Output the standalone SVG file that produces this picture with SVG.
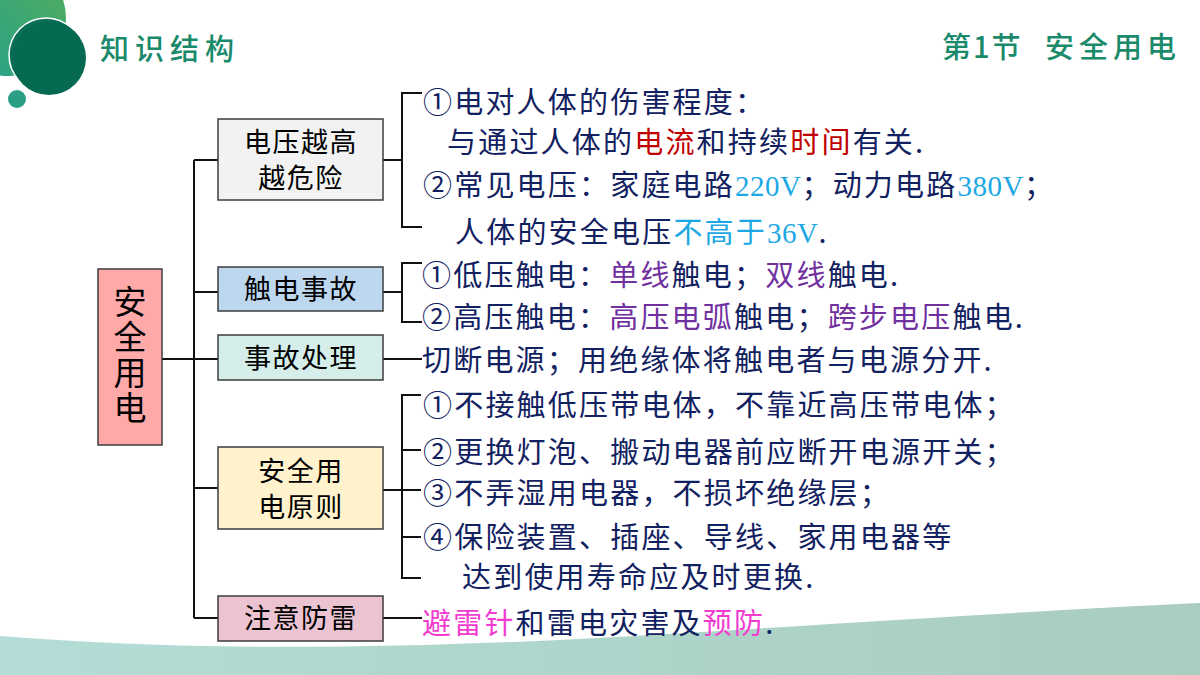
<svg xmlns="http://www.w3.org/2000/svg" width="1200" height="675" viewBox="0 0 1200 675">
<defs>
<linearGradient id="gBig" x1="0" y1="1" x2="1" y2="0">
<stop offset="0" stop-color="#22a08e"/>
<stop offset="1" stop-color="#55ad5c"/>
</linearGradient>
<linearGradient id="gBand" x1="0" y1="0" x2="1" y2="0">
<stop offset="0" stop-color="#b4ddd7"/>
<stop offset="1" stop-color="#a9cdbf"/>
</linearGradient>
<style>
.box{stroke:#3c3c3c;stroke-width:1.5}
.bt{font-family:"Noto Sans CJK SC","Noto Sans",sans-serif;font-size:27px;fill:#000;text-anchor:middle}
.rootT{font-family:"Noto Sans CJK SC","Noto Sans",sans-serif;font-size:33px;fill:#000;writing-mode:vertical-rl;letter-spacing:2.4px}
.rt{font-family:"Noto Sans CJK SC","Noto Sans",sans-serif;font-size:29px;fill:#12215f;letter-spacing:2.2px}
.num{font-family:"Liberation Serif","Noto Sans CJK SC",serif;letter-spacing:0.5px}
.red{fill:#c00000}
.cy{fill:#1ca8e4}
.pu{fill:#7030a0}
.pk{fill:#f23bcf}
.ln{fill:none;stroke:#111;stroke-width:2}
.title{font-family:"Noto Sans CJK SC",sans-serif;font-size:29px;fill:#1b8a6b;font-weight:500}
</style>
</defs>
<rect width="1200" height="675" fill="#ffffff"/>
<g id="decor">
<circle cx="8" cy="18" r="58" fill="url(#gBig)"/>
<circle cx="46" cy="55" r="37" fill="#0b6f58" stroke="#ffffff" stroke-width="1.5"/>
<circle cx="49" cy="58" r="37" fill="#066a53"/>
<circle cx="17" cy="99" r="9" fill="#2a9f86"/>
<path d="M0,636 C200,652 420,650 700,632 C900,620 1050,610 1200,603 L1200,675 L0,675 Z" fill="url(#gBand)"/>
</g>
<g id="titles">
<text class="title" x="100" y="60" letter-spacing="6">知识结构</text>
<text class="title" x="942" y="58" letter-spacing="2">第1节</text>
<text class="title" x="1045" y="58" letter-spacing="5">安全用电</text>
</g>
<g id="connectors">
<path class="ln" d="M162,359 H194 M194,160 V618 M194,160 H218 M194,292 H218 M194,359 H218 M194,488 H218 M194,618 H218"/>
<path class="ln" d="M383,160 H402 M422,93 H402 V227 H422"/>
<path class="ln" d="M383,292 H402 M422,263 H402 V322 H422"/>
<path class="ln" d="M383,359 H422"/>
<path class="ln" d="M383,490 H421 M421,395 H402 V578 H421 M402,450 H421 M402,537 H421"/>
<path class="ln" d="M383,618 H422"/>
</g>
<g id="root">
<rect class="box" x="98" y="269" width="64" height="176" fill="#ffa9a9"/>
<text class="rootT" x="130" y="285">安全用电</text>
</g>
<g id="n1">
<rect class="box" x="218" y="119" width="165" height="81" fill="#f2f2f2"/>
<text class="bt" x="301" y="152" letter-spacing="1.5">电压越高</text>
<text class="bt" x="301" y="188" letter-spacing="1.5">越危险</text>
</g>
<g id="n2">
<rect class="box" x="218" y="267" width="165" height="44" fill="#bdd7ee"/>
<text class="bt" x="301" y="299" letter-spacing="1.5">触电事故</text>
</g>
<g id="n3">
<rect class="box" x="218" y="335" width="165" height="45" fill="#d5eee9"/>
<text class="bt" x="301" y="368" letter-spacing="1.5">事故处理</text>
</g>
<g id="n4">
<rect class="box" x="218" y="447" width="165" height="82" fill="#fff2cc"/>
<text class="bt" x="301" y="481" letter-spacing="1.5">安全用</text>
<text class="bt" x="301" y="517" letter-spacing="1.5">电原则</text>
</g>
<g id="n5">
<rect class="box" x="218" y="596" width="165" height="45" fill="#ecc3d1"/>
<text class="bt" x="301" y="628" letter-spacing="1.5">注意防雷</text>
</g>
<g id="t1">
<text class="rt" x="423" y="113">①电对人体的伤害程度：</text>
<text class="rt" x="447" y="153">与通过人体的<tspan class="red">电流</tspan>和持续<tspan class="red">时间</tspan>有关.</text>
<text class="rt" x="423" y="196">②常见电压：家庭电路<tspan class="num cy">220V</tspan>；动力电路<tspan class="num cy">380V</tspan>；</text>
<text class="rt" x="455" y="243">人体的安全电压<tspan class="cy">不高于</tspan><tspan class="num cy">36V</tspan>.</text>
</g>
<g id="t2">
<text class="rt" x="422" y="286">①低压触电：<tspan class="pu">单线</tspan>触电；<tspan class="pu">双线</tspan>触电.</text>
<text class="rt" x="422" y="328">②高压触电：<tspan class="pu">高压电弧</tspan>触电；<tspan class="pu">跨步电压</tspan>触电.</text>
</g>
<g id="t3">
<text class="rt" x="422" y="371">切断电源；用绝缘体将触电者与电源分开.</text>
</g>
<g id="t4">
<text class="rt" x="423" y="416">①不接触低压带电体，不靠近高压带电体；</text>
<text class="rt" x="423" y="463">②更换灯泡、搬动电器前应断开电源开关；</text>
<text class="rt" x="423" y="504">③不弄湿用电器，不损坏绝缘层；</text>
<text class="rt" x="423" y="548">④保险装置、插座、导线、家用电器等</text>
<text class="rt" x="462" y="588">达到使用寿命应及时更换.</text>
</g>
<g id="t5">
<text class="rt" x="422" y="634"><tspan class="pk">避雷针</tspan>和雷电灾害及<tspan class="pk">预防</tspan>.</text>
</g>
</svg>
